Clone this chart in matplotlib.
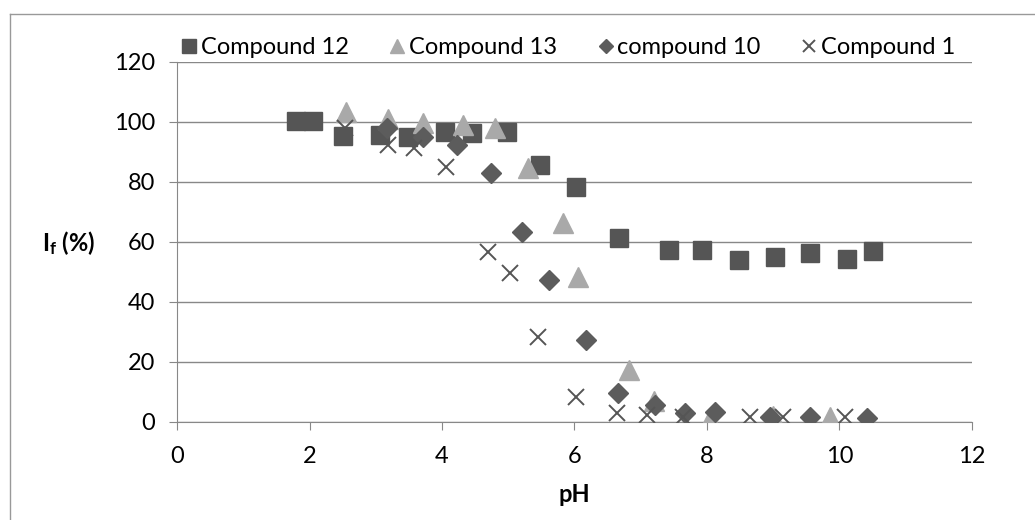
import matplotlib
matplotlib.use('Agg')
import matplotlib.pyplot as plt
from matplotlib.lines import Line2D

plt.rcParams['font.family'] = ['Lato', 'DejaVu Sans']
plt.rcParams['mathtext.fontset'] = 'custom'
plt.rcParams['mathtext.rm'] = 'Lato'
plt.rcParams['mathtext.bf'] = 'Lato:bold'

# pH / relative fluorescence intensity
ph_c12 = [1.8, 2.05, 2.5, 3.07, 3.49, 4.05, 4.45, 4.98, 5.48, 6.03, 6.67,
          7.42, 7.92, 8.48, 9.03, 9.55, 10.12, 10.5]
if_c12 = [100.5, 100.5, 95.5, 95.7, 95, 96.7, 96.3, 96.7, 85.7, 78.3, 61.3,
          57.5, 57.5, 54, 55, 56.5, 54.5, 57]

ph_c13 = [2.55, 3.18, 3.72, 4.32, 4.8, 5.3, 5.83, 6.06, 6.82, 7.2, 8.05,
          9.0, 9.86, 10.45]
if_c13 = [103.5, 101, 99.7, 99, 98, 84.7, 66.3, 48.3, 17.3, 7, 1,
          2, 1.7, 0]

ph_c10 = [3.17, 3.72, 4.23, 4.74, 5.2, 5.62, 6.18, 6.66, 7.22, 7.67, 8.12,
          8.95, 9.55, 10.41]
if_c10 = [98, 95, 92.3, 83, 63.3, 47.3, 27.3, 9.7, 5.7, 3, 3.3,
          1.7, 1.7, 1.3]

ph_c1 = [2.05, 2.54, 3.18, 3.58, 4.06, 4.7, 5.02, 5.45, 6.03, 6.64, 7.1,
         7.64, 8.65, 9.15, 10.08]
if_c1 = [100.5, 98, 92.3, 91.3, 85, 56.7, 49.7, 28.3, 8.3, 3, 2.3,
         1.7, 1.7, 1.7, 1.7]

fig = plt.figure(figsize=(10.35, 5.2), dpi=100)
ax = fig.add_axes([177 / 1035, 1 - 422 / 520, 795 / 1035, 360 / 520])

# outer chart frame (scan shows top and left edge)
fig.add_artist(Line2D([10 / 1035, 10 / 1035], [0, 1 - 14 / 520],
                      transform=fig.transFigure, color='#999999', lw=1))
fig.add_artist(Line2D([10 / 1035, 1], [1 - 14 / 520, 1 - 14 / 520],
                      transform=fig.transFigure, color='#999999', lw=1))

ax.plot(ph_c12, if_c12, ls='none', marker='s', ms=13, color='#555555',
        mec='#555555', label='Compound 12', zorder=3)
ax.plot(ph_c13, if_c13, ls='none', marker='^', ms=14, color='#a9a9a9',
        mec='#a9a9a9', label='Compound 13', zorder=4)
ax.plot(ph_c10, if_c10, ls='none', marker='D', ms=10, color='#5c5c5c',
        mec='#5c5c5c', label='compound 10', zorder=5)
ax.plot(ph_c1, if_c1, ls='none', marker='x', ms=12, mew=1.4, color='#555555',
        label='Compound 1', zorder=6)

ax.set_xlim(0, 12)
ax.set_ylim(0, 120)
ax.set_xticks(range(0, 13, 2))
ax.set_yticks(range(0, 121, 20))
ax.yaxis.grid(True, color='#888888', lw=1)
ax.set_axisbelow(True)
for s in ['top', 'right']:
    ax.spines[s].set_visible(False)
for s in ['left', 'bottom']:
    ax.spines[s].set_color('#888888')
ax.tick_params(axis='both', labelsize=17, color='#888888', length=6,
               direction='out')
ax.tick_params(axis='x', pad=11)
ax.tick_params(axis='y', pad=10)

ax.set_xlabel('pH', fontsize=17, fontweight='bold', labelpad=12)
fig.text(69 / 1035, 1 - 243 / 520, r'$\mathbf{I_f}$ (%)', fontsize=17,
         fontweight='bold', ha='center', va='center')

ax.legend(loc='center left', bbox_to_anchor=(-0.01, 1.04), ncol=4,
          frameon=False, fontsize=17, handletextpad=0.05, columnspacing=1.6,
          handlelength=0.9, markerscale=0.75, borderaxespad=0)

fig.savefig('out.png', dpi=100)
